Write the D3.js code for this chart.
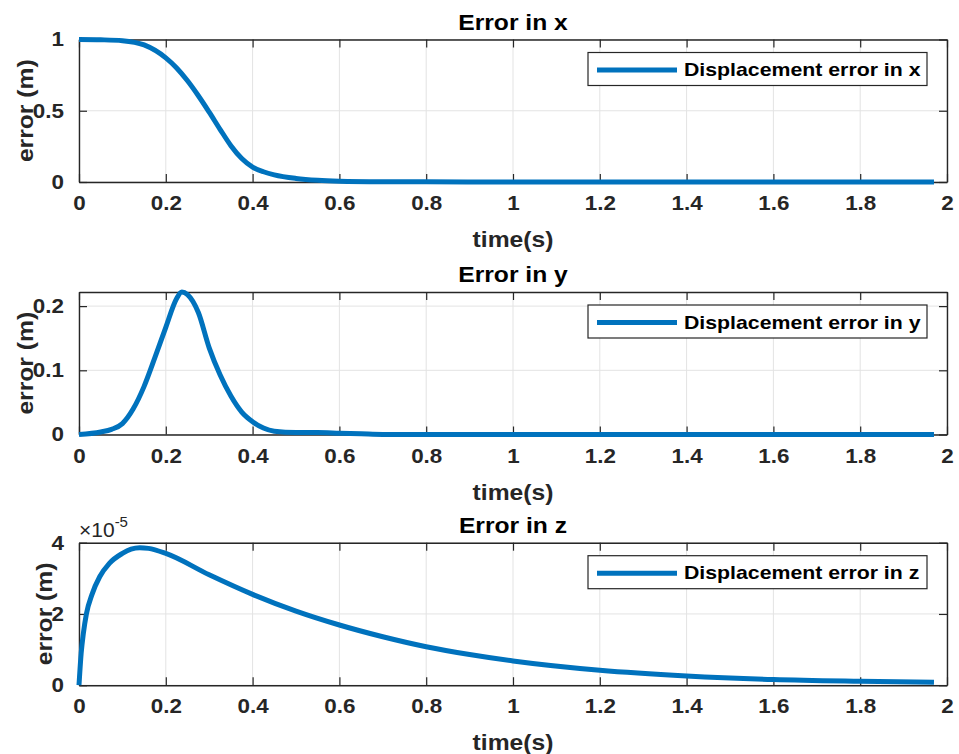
<!DOCTYPE html>
<html>
<head>
<meta charset="utf-8">
<script src="https://cdn.jsdelivr.net/npm/d3@7"></script>
<style>
  body { margin: 0; background: #fff; }
  svg { display: block; }
  text { font-family: "Liberation Sans", Arial, Helvetica, sans-serif; font-weight: bold; }
</style>
</head>
<body>
<svg id="chart" width="959" height="754"></svg>
<script>
// time samples (s) and errors
var timeX = [0, 0.05, 0.1, 0.15, 0.2, 0.225, 0.25, 0.275, 0.3, 0.325, 0.35, 0.375, 0.4, 0.425, 0.45, 0.5, 0.55, 0.6, 0.7, 0.8, 1.0, 1.2, 1.4, 1.6, 1.8, 1.97];
var errX  = [1.0, 0.998, 0.992, 0.962, 0.871, 0.80, 0.71, 0.605, 0.49, 0.37, 0.255, 0.165, 0.105, 0.072, 0.05, 0.025, 0.012, 0.006, 0.002, 0.001, 0, 0, 0, 0, 0, 0];

var timeY = [0, 0.05, 0.075, 0.1, 0.125, 0.15, 0.175, 0.2, 0.225, 0.237, 0.25, 0.275, 0.3, 0.325, 0.35, 0.375, 0.4, 0.425, 0.45, 0.5, 0.55, 0.6, 0.65, 0.7, 1.0, 1.5, 1.97];
var errY  = [0, 0.004, 0.008, 0.017, 0.04, 0.075, 0.12, 0.167, 0.212, 0.222, 0.218, 0.19, 0.135, 0.093, 0.06, 0.035, 0.02, 0.01, 0.005, 0.003, 0.003, 0.002, 0.001, 0, 0, 0, 0];

// z error in units of 1e-5 m
var timeZ = [0, 0.005, 0.01, 0.017, 0.03, 0.048, 0.07, 0.1, 0.12, 0.14, 0.16, 0.2, 0.3, 0.4, 0.5, 0.6, 0.7, 0.8, 0.9, 1.0, 1.2, 1.4, 1.6, 1.8, 1.97];
var errZ  = [0, 0.9, 1.45, 2.0, 2.55, 3.05, 3.42, 3.7, 3.82, 3.86, 3.84, 3.7, 3.1, 2.55, 2.08, 1.69, 1.36, 1.08, 0.86, 0.68, 0.42, 0.26, 0.16, 0.11, 0.08];

var xTicks = [0, 0.2, 0.4, 0.6, 0.8, 1, 1.2, 1.4, 1.6, 1.8, 2];
var titles = ["Error in x", "Error in y", "Error in z"];
var legendLabels = ["Displacement error in x", "Displacement error in y", "Displacement error in z"];
var yTicksX = [0, 0.5, 1];
var yTicksY = [0, 0.1, 0.2];
var yTicksZ = [0, 2, 4];

var svg = d3.select("#chart");
var left = 79, right = 947, plotH = 142.5;
var tops = [39.5, 292, 542.7];
var lineColor = "#0072BD", axisColor = "#262626", gridColor = "#e3e3e3";
var STRETCH = 1.12;

function stretch(sel){
    sel.each(function(){
        var w = this.getComputedTextLength();
        d3.select(this).attr("textLength", w * STRETCH).attr("lengthAdjust", "spacingAndGlyphs");
    });
    return sel;
}

var panels = [
    {t: timeX, v: errX, ymax: 1, yticks: yTicksX, ylabX: 25},
    {t: timeY, v: errY, ymax: 0.222, yticks: yTicksY, ylabX: 25},
    {t: timeZ, v: errZ, ymax: 4, yticks: yTicksZ, ylabX: 44, exp: true}
];

panels.forEach(function(p, i){
    var top = tops[i], bottom = top + plotH;
    var x = d3.scaleLinear().domain([0, 2]).range([left, right]);
    var y = d3.scaleLinear().domain([0, p.ymax]).range([bottom, top]);
    var g = svg.append("g");

    // grid
    g.selectAll("line.gx").data(xTicks).enter().append("line")
        .attr("x1", function(d){ return x(d); }).attr("x2", function(d){ return x(d); })
        .attr("y1", top).attr("y2", bottom)
        .attr("stroke", gridColor).attr("stroke-width", 1);
    g.selectAll("line.gy").data(p.yticks).enter().append("line")
        .attr("x1", left).attr("x2", right)
        .attr("y1", function(d){ return y(d); }).attr("y2", function(d){ return y(d); })
        .attr("stroke", gridColor).attr("stroke-width", 1);

    // axes with inward ticks, box on
    var axB = g.append("g").attr("transform", "translate(0," + bottom + ")")
        .call(d3.axisBottom(x).tickValues(xTicks).tickSizeInner(-8).tickSizeOuter(0).tickPadding(14)
            .tickFormat(d3.format("~g")));
    var axT = g.append("g").attr("transform", "translate(0," + top + ")")
        .call(d3.axisTop(x).tickValues(xTicks).tickSizeInner(-8).tickSizeOuter(0).tickFormat(""));
    var axL = g.append("g").attr("transform", "translate(" + left + ",0)")
        .call(d3.axisLeft(y).tickValues(p.yticks).tickSizeInner(-8).tickSizeOuter(0).tickPadding(15)
            .tickFormat(d3.format("~g")));
    var axR = g.append("g").attr("transform", "translate(" + right + ",0)")
        .call(d3.axisRight(y).tickValues(p.yticks).tickSizeInner(-8).tickSizeOuter(0).tickFormat(""));

    [axB, axT, axL, axR].forEach(function(a){
        a.select(".domain").attr("stroke", axisColor).attr("stroke-width", 1.4);
        a.selectAll(".tick line").attr("stroke", axisColor).attr("stroke-width", 1.2);
        a.selectAll(".tick text").attr("fill", axisColor).style("font-size", "20px")
            .style("font-family", "'Liberation Sans', Arial, sans-serif").style("font-weight", "bold");
    });
    axB.selectAll(".tick text").attr("dy", "0.71em").attr("y", 14);
    stretch(axB.selectAll(".tick text"));
    stretch(axL.selectAll(".tick text"));

    // line
    var pts = p.t.map(function(t, k){ return [t, p.v[k]]; });
    g.append("path").datum(pts)
        .attr("fill", "none").attr("stroke", lineColor).attr("stroke-width", 5)
        .attr("stroke-linejoin", "round")
        .attr("d", d3.line().x(function(d){ return x(d[0]); }).y(function(d){ return y(d[1]); })
            .curve(d3.curveMonotoneX));

    // title
    stretch(g.append("text").attr("x", (left + right) / 2).attr("y", top - 10)
        .attr("text-anchor", "middle").style("font-size", "22px").attr("fill", "#000")
        .text(titles[i]));

    // axis labels
    stretch(g.append("text").attr("x", (left + right) / 2).attr("y", bottom + 65)
        .attr("text-anchor", "middle").style("font-size", "22px").attr("fill", axisColor)
        .text("time(s)"));
    stretch(g.append("text").attr("transform", "translate(" + p.ylabX + "," + ((top + bottom) / 2) + ") rotate(-90)")
        .attr("dy", "0.35em").attr("text-anchor", "middle").style("font-size", "22px").attr("fill", axisColor)
        .text("error (m)"));

    if (p.exp) {
        var e = g.append("text").attr("x", left).attr("y", top - 6).attr("fill", axisColor)
            .style("font-size", "21px").style("font-weight", "normal");
        e.append("tspan").text("\u00d710");
        e.append("tspan").attr("dy", -10).style("font-size", "15px").text("-5");
    }

    // legend
    var lw = 339, lh = 33, lx = right - 20 - lw, ly = top + 13;
    var lg = g.append("g");
    lg.append("rect").attr("x", lx).attr("y", ly).attr("width", lw).attr("height", lh)
        .attr("fill", "#fff").attr("stroke", axisColor).attr("stroke-width", 1.2);
    lg.append("line").attr("x1", lx + 9).attr("x2", lx + 89)
        .attr("y1", ly + lh / 2 + 1).attr("y2", ly + lh / 2 + 1)
        .attr("stroke", lineColor).attr("stroke-width", 5);
    stretch(lg.append("text").attr("x", lx + 96).attr("y", ly + lh / 2 + 7)
        .style("font-size", "19px").attr("fill", "#000").text(legendLabels[i]));
});
</script>
</body>
</html>
